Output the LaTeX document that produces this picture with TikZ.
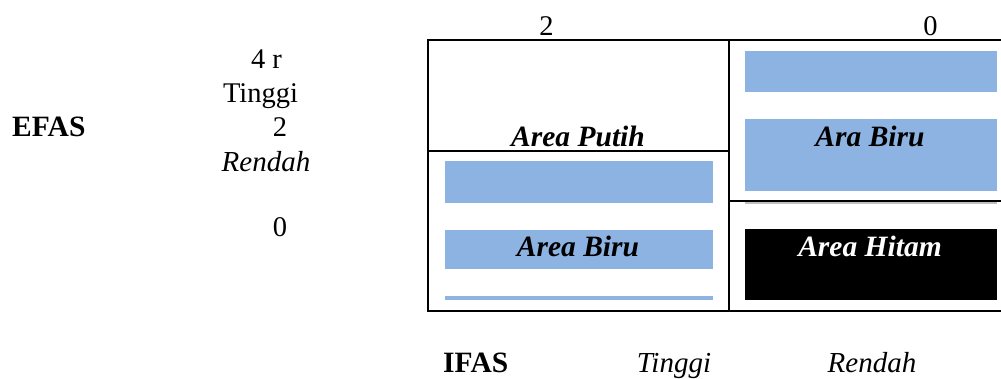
\documentclass[tikz,border=0pt]{standalone}
\usepackage{fontspec}
\setmainfont{Liberation Serif}
\definecolor{areablue}{RGB}{141,179,226}
\tikzset{
  lbl/.style={inner sep=0pt, anchor=base, font=\fontsize{28.5}{34}\selectfont},
  lblb/.style={lbl, font=\fontsize{29.5}{35}\selectfont\bfseries},
  lbli/.style={lbl, font=\fontsize{29}{35}\selectfont\itshape},
  lblbi/.style={lbl, font=\fontsize{29.5}{35}\selectfont\bfseries\itshape},
  frame/.style={line width=1.6pt, black},
  bluebar/.style={fill=areablue},
}
\begin{document}
\begin{tikzpicture}[x=1pt,y=-1pt]
\useasboundingbox (0,0) rectangle (1001,379);

% quadrant fills
\begin{scope}
  \clip (428,40) rectangle (1001,300);
  \fill[bluebar] (445,161) rectangle (713,203);
  \fill[bluebar] (445,230) rectangle (713,269);
  \fill[bluebar] (445,296) rectangle (713,300);
  \fill[bluebar] (745,51) rectangle (997,92);
  \fill[bluebar] (745,119) rectangle (997,191);
  \fill[black] (745,229) rectangle (997,300);
  \fill[black!25] (745,202) rectangle (997,204);
\end{scope}

% frame and dividers
\coordinate (tl) at (428,40);
\coordinate (tr) at (1003,40);
\coordinate (bl) at (428,311);
\coordinate (br) at (1003,311);
\coordinate (mt) at (729,40);
\coordinate (mb) at (729,311);
\coordinate (ll) at (428,151);
\coordinate (lr) at (729,151);
\coordinate (rl) at (729,201);
\coordinate (rr) at (1003,201);
\draw[frame] (tr) -- (tl) -- (bl) -- (br);
\draw[frame] (mt) -- (mb);
\draw[frame] (ll) -- (lr);
\draw[frame] (rl) -- (rr);

% labels inside the quadrants
\node[lblbi] (putih) at (578,147) {Area Putih};
\node[lblbi] (birul) at (578,257) {Area Biru};
\node[lblbi] (birur) at (870,147) {Ara Biru};
\node[lblbi, text=white] (hitam) at (870,257) {Area Hitam};

% scale along the top
\node[lbl] (top2) at (546.5,36) {2};
\node[lbl] (top0) at (930.5,36) {0};

% EFAS axis
\node[lblb, anchor=base west] (efas) at (12,137) {EFAS};
\node[lbl] (e4) at (266.5,69) {4 r};
\node[lbl] (etinggi) at (260.5,103) {Tinggi};
\node[lbl] (e2) at (280,137) {2};
\node[lbli] (erendah) at (266,172) {Rendah};
\node[lbl] (e0) at (280,237) {0};

% IFAS axis
\node[lblb, anchor=base west] (ifas) at (443,372) {IFAS};
\node[lbli] (itinggi) at (674,372) {Tinggi};
\node[lbli] (irendah) at (872,372) {Rendah};
\end{tikzpicture}
\end{document}
